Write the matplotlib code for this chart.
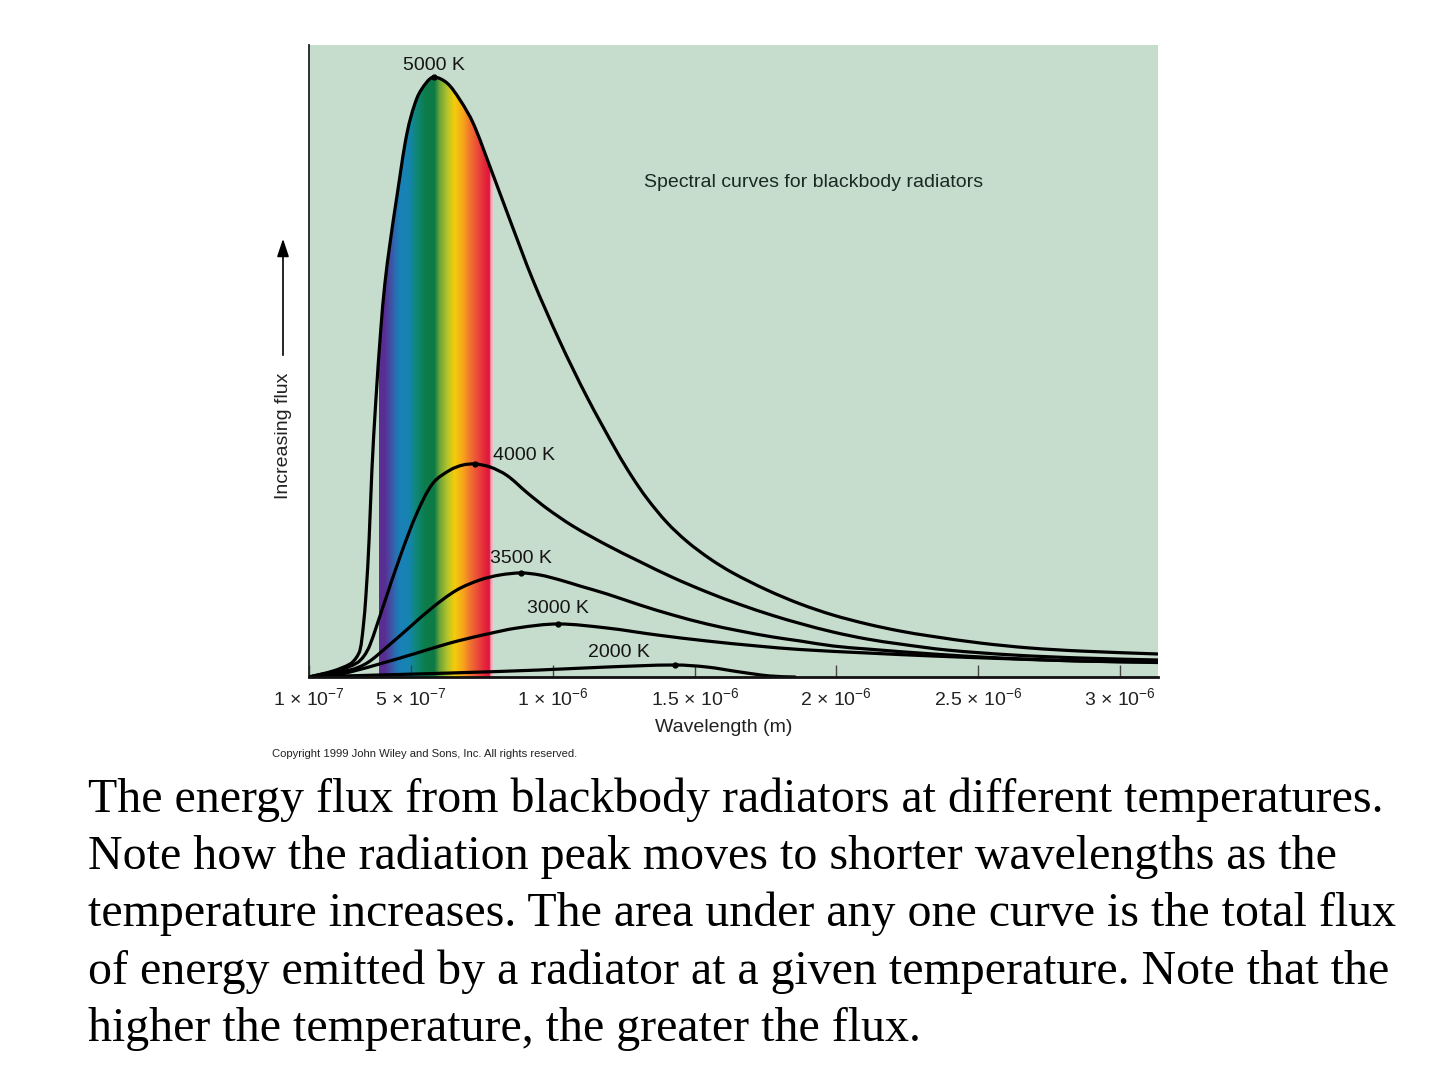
import numpy as np
import matplotlib
matplotlib.use("Agg")
import matplotlib.pyplot as plt
from matplotlib.colors import LinearSegmentedColormap
from matplotlib.path import Path
from matplotlib.patches import PathPatch, FancyArrowPatch

plt.rcParams['font.family'] = ['Liberation Sans', 'DejaVu Sans']
plt.rcParams['mathtext.fontset'] = 'custom'
plt.rcParams['mathtext.rm'] = 'Liberation Sans'
plt.rcParams['mathtext.it'] = 'Liberation Sans:italic'
plt.rcParams['mathtext.bf'] = 'Liberation Sans:bold'

# ---------------- data (wavelength in micrometres, flux in arbitrary units) -------------
wl_5000 = [0.139, 0.224, 0.284, 0.305, 0.319, 0.330, 0.340, 0.351, 0.361, 0.375, 0.393,
           0.407, 0.425, 0.450, 0.485, 0.520, 0.555, 0.580, 0.626, 0.672, 0.718, 0.778,
           0.848, 0.929, 1.025, 1.120, 1.226, 1.279, 1.332, 1.402, 1.473, 1.554, 1.635,
           1.755, 1.872, 1.988, 2.108, 2.224, 2.330, 2.507, 2.683, 2.860, 3.135]
flux_5000 = [0.0, 0.95, 2.06, 3.01, 4.27, 7.75, 12.97, 21.68, 32.75, 43.83, 55.38,
             62.34, 68.67, 76.27, 86.08, 91.61, 94.15, 94.94, 93.99, 91.30, 87.66, 80.70,
             72.31, 62.82, 53.01, 44.30, 35.60, 31.68, 28.24, 24.45, 21.44, 18.70, 16.46,
             13.77, 11.57, 9.81, 8.39, 7.28, 6.49, 5.38, 4.59, 4.11, 3.64]

wl_4000 = [0.139, 0.248, 0.308, 0.333, 0.354, 0.400, 0.460, 0.520, 0.577, 0.637,
           0.682, 0.725, 0.778, 0.838, 0.908, 0.979, 1.071, 1.191, 1.307, 1.423,
           1.543, 1.660, 1.776, 1.872, 1.988, 2.108, 2.224, 2.390, 2.623, 2.860, 3.135]
flux_4000 = [0.0, 1.11, 2.22, 3.32, 5.06, 11.08, 18.99, 25.95, 30.70, 32.75,
             33.54, 33.70, 33.23, 31.88, 29.19, 26.66, 23.86, 20.85, 18.24, 15.74,
             13.45, 11.47, 9.73, 8.47, 7.12, 6.01, 5.22, 4.27, 3.48, 3.01, 2.69]

wl_3500 = [0.139, 0.284, 0.344, 0.414, 0.495, 0.577, 0.661, 0.742, 0.813, 0.887,
           0.954, 1.025, 1.095, 1.191, 1.307, 1.423, 1.543, 1.660, 1.776, 1.872,
           1.988, 2.108, 2.341, 2.577, 2.860, 3.135]
flux_3500 = [0.0, 1.11, 2.22, 4.75, 7.91, 11.08, 13.77, 15.35, 16.14, 16.46,
             16.14, 15.35, 14.40, 13.13, 11.39, 9.81, 8.39, 7.28, 6.33, 5.70,
             4.91, 4.43, 3.64, 3.01, 2.53, 2.37]

wl_3000 = [0.139, 0.213, 0.284, 0.400, 0.520, 0.637, 0.753, 0.873, 1.018, 1.191,
           1.367, 1.543, 1.720, 1.872, 2.108, 2.341, 2.577, 2.860, 3.135]
flux_3000 = [0.0, 0.16, 0.79, 2.22, 3.80, 5.38, 6.65, 7.75, 8.39, 7.75,
             6.65, 5.70, 4.91, 4.35, 3.80, 3.32, 2.93, 2.53, 2.29]

wl_2000 = [0.139, 0.390, 0.637, 0.954, 1.191, 1.430, 1.543, 1.660, 1.766, 1.854]
flux_2000 = [0.0, 0.32, 0.63, 1.11, 1.58, 1.90, 1.58, 0.79, 0.16, 0.0]

temps = ["5000 K", "4000 K", "3500 K", "3000 K", "2000 K"]
peak_wl = [0.580, 0.725, 0.887, 1.018, 1.430]
peak_flux = [94.94, 33.70, 16.46, 8.39, 1.90]

visible_band = [0.386, 0.785]

tick_pos = [0.139, 0.5, 1.0, 1.5, 2.0, 2.5, 3.0]
tick_labels = [r"1 $\times$ 10$^{-7}$", r"5 $\times$ 10$^{-7}$", r"1 $\times$ 10$^{-6}$",
               r"1.5 $\times$ 10$^{-6}$", r"2 $\times$ 10$^{-6}$", r"2.5 $\times$ 10$^{-6}$",
               r"3 $\times$ 10$^{-6}$"]

caption_lines = [
    "The energy flux from blackbody radiators at different temperatures.",
    "Note how the radiation peak moves to shorter wavelengths as the",
    "temperature increases. The area under any one curve is the total flux",
    "of energy emitted by a radiator at a given temperature. Note that the",
    "higher the temperature, the greater the flux.",
]

XLIM = (0.139, 3.135)
YLIM = (0, 100)


def smooth_path(xs, ys):
    """Bezier path passing through every read point (chord-length tangents)."""
    P = np.column_stack([xs, ys]).astype(float)
    S = P.copy()
    S[:, 0] = (S[:, 0] - XLIM[0]) / (XLIM[1] - XLIM[0]) * 849
    S[:, 1] = (S[:, 1] - YLIM[0]) / (YLIM[1] - YLIM[0]) * 632
    d = np.hypot(*np.diff(S, axis=0).T)
    n = len(P)
    m = np.zeros_like(P)
    m[0] = (P[1] - P[0]) / d[0]
    m[-1] = (P[-1] - P[-2]) / d[-1]
    for i in range(1, n - 1):
        m[i] = (P[i + 1] - P[i - 1]) / (d[i - 1] + d[i])
    verts = [P[0]]
    codes = [Path.MOVETO]
    for i in range(n - 1):
        c1 = P[i] + m[i] * d[i] / 3
        c2 = P[i + 1] - m[i + 1] * d[i] / 3
        verts += [c1, c2, P[i + 1]]
        codes += [Path.CURVE4] * 3
    return Path(np.array(verts), codes)


# ---------------- figure ----------------
fig = plt.figure(figsize=(14.4, 10.8), dpi=100)
ax = fig.add_axes([309 / 1440, 1 - 677 / 1080, (1158 - 309) / 1440, (677 - 45) / 1080])
ax.set_facecolor('#c6dccd')

# spectrum band clipped under the 5000 K curve
k = 110 / 113
spec_colors = [(0.0, '#5c2d90'), (0.055 * k, '#582f95'), (0.118 * k, '#3a5aa8'),
               (0.18 * k, '#1a80b8'), (0.27 * k, '#1585b0'), (0.327 * k, '#10887f'),
               (0.418 * k, '#0c7d4a'), (0.5 * k, '#0d7a45'), (0.545 * k, '#6aa33a'),
               (0.618 * k, '#b5c52a'), (0.68 * k, '#f4cd0a'), (0.755 * k, '#f7a81b'),
               (0.827 * k, '#f07030'), (0.909 * k, '#e8403a'), (0.975 * k, '#e21c3c'),
               (k, '#e01a3c'), (k + 0.006, '#eea0b4'), (1.0, '#f0bcc8')]
cmap = LinearSegmentedColormap.from_list('spec', spec_colors, N=512)
grad = np.linspace(0, 1, 512).reshape(1, -1)
im = ax.imshow(grad, cmap=cmap, extent=[visible_band[0], visible_band[1], 0, 100],
               aspect='auto', zorder=1, interpolation='bilinear')
clip = PathPatch(smooth_path(wl_5000 + [wl_5000[-1], wl_5000[0]],
                             flux_5000 + [0.0, 0.0]),
                 transform=ax.transData, facecolor='none', edgecolor='none')
ax.add_patch(clip)
im.set_clip_path(clip)

lw = 2.3
for wl, fl in [(wl_5000, flux_5000), (wl_4000, flux_4000), (wl_3500, flux_3500),
               (wl_3000, flux_3000), (wl_2000, flux_2000)]:
    ax.add_patch(PathPatch(smooth_path(wl, fl), facecolor='none', edgecolor='black',
                           lw=lw, capstyle='round', joinstyle='round', zorder=3))
ax.plot(peak_wl, peak_flux, 'o', color='black', ms=3.5, zorder=4)

fs = 14
tc = '#151515'
ax.text(0.580, 96.8, temps[0], ha='center', va='center', fontsize=fs, color=tc)
ax.text(0.790, 35.1, temps[1], ha='left', va='center', fontsize=fs, color=tc)
ax.text(0.778, 18.8, temps[2], ha='left', va='center', fontsize=fs, color=tc)
ax.text(1.018, 10.8, temps[3], ha='center', va='center', fontsize=fs, color=tc)
ax.text(1.233, 3.9, temps[4], ha='center', va='center', fontsize=fs, color=tc)
ax.text(1.321, 78.3, "Spectral curves for blackbody radiators", ha='left', va='center',
        fontsize=fs, color='#1a2a22')

ax.set_xlim(*XLIM)
ax.set_ylim(*YLIM)
for s in ['top', 'right']:
    ax.spines[s].set_visible(False)
ax.spines['left'].set_color('#222222')
ax.spines['left'].set_linewidth(1.3)
ax.spines['bottom'].set_color('#111111')
ax.spines['bottom'].set_linewidth(2.0)
ax.spines['bottom'].set_zorder(5)
ax.set_yticks([])
ax.set_xticks(tick_pos)
ax.set_xticklabels(tick_labels, fontsize=fs, color='#222222')
ax.tick_params(axis='x', direction='in', length=8.5, width=1.0, color='#444444', pad=7)

fig.text(724 / 1440, 1 - 727 / 1080, "Wavelength (m)", ha='center', va='center',
         fontsize=fs, color='#222222')
fig.text(283 / 1440, 1 - 436 / 1080, "Increasing flux", ha='center', va='center',
         rotation=90, fontsize=fs, color='#222222')
fig.patches.append(FancyArrowPatch(
    (283 / 1440, 1 - 358 / 1080), (283 / 1440, 1 - 236 / 1080), transform=fig.transFigure,
    arrowstyle='-|>,head_length=0.9,head_width=0.3', mutation_scale=12, lw=1.2, color='black'))
fig.text(272 / 1440, 1 - 754 / 1080, "Copyright 1999 John Wiley and Sons, Inc. All rights reserved.",
         ha='left', va='center', fontsize=8.1, color='#222222')

baselines = [812, 869, 926, 984, 1041]
for line, b in zip(caption_lines, baselines):
    fig.text(88 / 1440, 1 - b / 1080, line, ha='left', va='baseline', fontsize=34.5,
             family=['Liberation Serif', 'DejaVu Serif'], color='black')

fig.savefig('out.png', dpi=100, facecolor='white')
